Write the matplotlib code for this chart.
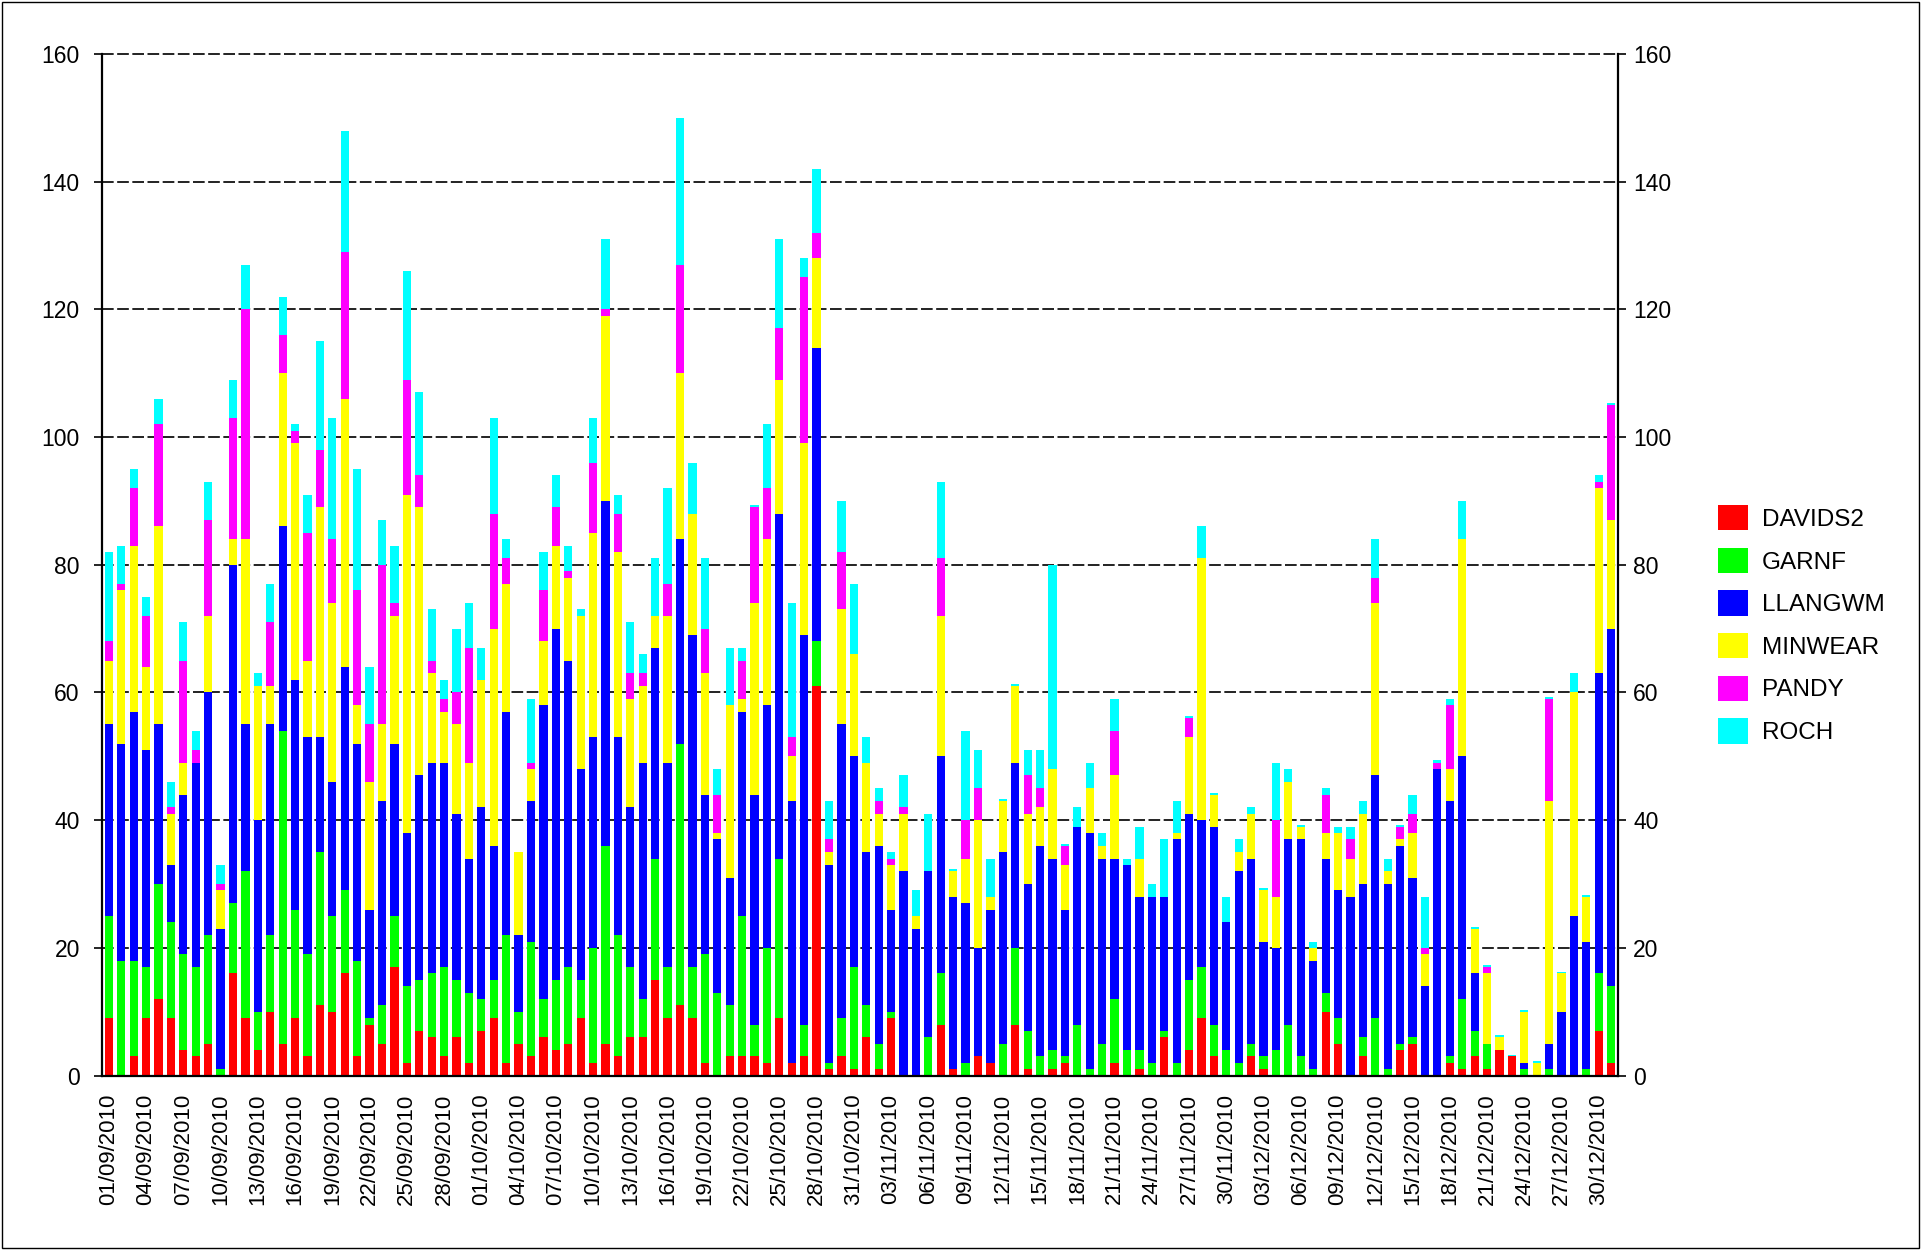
import numpy as np
import pandas as pd
from matplotlib import pyplot as plt
from matplotlib.patches import Patch, Rectangle

plt.rcParams['font.family'] = ['Liberation Sans', 'DejaVu Sans']

# one bar per day, 01/09/2010 - 31/12/2010
days = pd.date_range('2010-09-01', '2010-12-31', freq='D')

names = ['DAVIDS2', 'GARNF', 'LLANGWM', 'MINWEAR', 'PANDY', 'ROCH']
colors = ['#ff0000', '#00ff00', '#0000ff', '#ffff00', '#ff00ff', '#00ffff']

davids2 = [9, 0, 3, 9, 12, 9, 4, 3, 5, 0,
           16, 9, 4, 10, 5, 9, 3, 11, 10, 16,
           3, 8, 5, 17, 2, 7, 6, 3, 6, 2,
           7, 9, 2, 5, 3, 6, 4, 5, 9, 2,
           5, 3, 6, 6, 15, 9, 11, 9, 2, 0,
           3, 3, 3, 2, 9, 2, 3, 61, 1, 3,
           1, 6, 1, 9, 0, 0, 0, 8, 1, 0,
           3, 2, 0, 8, 1, 0, 1, 2, 0, 0,
           0, 2, 0, 1, 0, 6, 0, 4, 9, 3,
           0, 0, 3, 1, 0, 0, 0, 0, 10, 5,
           0, 3, 0, 0, 4, 5, 0, 0, 2, 1,
           3, 1, 4, 3, 0, 0, 0, 0, 0, 0,
           7, 2]
garnf = [16, 18, 15, 8, 18, 15, 15, 14, 17, 1,
         11, 23, 6, 12, 49, 17, 16, 24, 15, 13,
         15, 1, 6, 8, 12, 8, 10, 14, 9, 11,
         5, 6, 20, 5, 18, 6, 11, 12, 6, 18,
         31, 19, 11, 6, 19, 8, 41, 8, 17, 13,
         8, 22, 5, 18, 25, 0, 5, 7, 1, 6,
         16, 5, 4, 1, 0, 0, 6, 8, 0, 2,
         0, 0, 5, 12, 6, 3, 3, 1, 8, 1,
         5, 10, 4, 3, 2, 1, 2, 11, 8, 5,
         4, 2, 2, 2, 4, 8, 3, 1, 3, 4,
         0, 3, 9, 1, 1, 1, 0, 0, 1, 11,
         4, 4, 0, 0, 1, 0, 1, 0, 0, 1,
         9, 12]
llangwm = [30, 34, 39, 34, 25, 9, 25, 32, 38, 22,
           53, 23, 30, 33, 32, 36, 34, 18, 21, 35,
           34, 17, 32, 27, 24, 32, 33, 32, 26, 21,
           30, 21, 35, 12, 22, 46, 55, 48, 33, 33,
           54, 31, 25, 37, 33, 32, 32, 52, 25, 24,
           20, 32, 36, 38, 54, 41, 61, 46, 31, 46,
           33, 24, 31, 16, 32, 23, 26, 34, 27, 25,
           17, 24, 30, 29, 23, 33, 30, 23, 31, 37,
           29, 22, 29, 24, 26, 21, 35, 26, 23, 31,
           20, 30, 29, 18, 16, 29, 34, 17, 21, 20,
           28, 24, 38, 29, 31, 25, 14, 48, 40, 38,
           9, 0, 0, 0, 1, 0, 4, 10, 25, 20,
           47, 56]
minwear = [10, 24, 26, 13, 31, 8, 5, 0, 12, 6,
           4, 29, 21, 6, 24, 37, 12, 36, 28, 42,
           6, 20, 12, 20, 53, 42, 14, 8, 14, 15,
           20, 34, 20, 13, 5, 10, 13, 13, 24, 32,
           29, 29, 17, 12, 5, 23, 26, 19, 19, 1,
           27, 2, 30, 26, 21, 7, 30, 14, 2, 18,
           16, 14, 5, 7, 9, 2, 0, 22, 4, 7,
           20, 2, 8, 12, 11, 6, 14, 7, 0, 7,
           2, 13, 0, 6, 0, 0, 1, 12, 41, 5,
           0, 3, 7, 8, 8, 9, 2, 2, 4, 9,
           6, 11, 27, 2, 1, 7, 5, 0, 5, 34,
           7, 11, 2, 0, 8, 2, 38, 6, 35, 7,
           29, 17]
pandy = [3, 1, 9, 8, 16, 1, 16, 2, 15, 1,
         19, 36, 0, 10, 6, 2, 20, 9, 10, 23,
         18, 9, 25, 2, 18, 5, 2, 2, 5, 18,
         0, 18, 4, 0, 1, 8, 6, 1, 0, 11,
         1, 6, 4, 2, 0, 5, 17, 0, 7, 6,
         0, 6, 15, 8, 8, 3, 26, 4, 2, 9,
         0, 0, 2, 1, 1, 0, 0, 9, 0, 6,
         5, 0, 0, 0, 6, 3, 0, 3, 0, 0,
         0, 7, 0, 0, 0, 0, 0, 3, 0, 0,
         0, 0, 0, 0, 12, 0, 0, 0, 6, 0,
         3, 0, 4, 0, 2, 3, 1, 1, 10, 0,
         0, 1, 0, 0, 0, 0, 16, 0, 0, 0,
         1, 18]
roch = [14, 6, 3, 3, 4, 4, 6, 3, 6, 3,
        6, 7, 2, 6, 6, 1, 6, 17, 19, 19,
        19, 9, 7, 9, 17, 13, 8, 3, 10, 7,
        5, 15, 3, 0, 10, 6, 5, 4, 1, 7,
        11, 3, 8, 3, 9, 15, 23, 8, 11, 4,
        9, 2, 0.3, 10, 14, 21, 3, 10, 6, 8,
        11, 4, 2, 1, 5, 4, 9, 12, 0.3, 14,
        6, 6, 0.3, 0.3, 4, 6, 32, 0.3, 3, 4,
        2, 5, 1, 5, 2, 9, 5, 0.3, 5, 0.3,
        4, 2, 1, 0.4, 9, 2, 0.3, 1, 1, 1,
        2, 2, 6, 2, 0.3, 3, 8, 0.4, 1, 6,
        0.3, 0.3, 0.3, 0.3, 0.3, 0.3, 0.3, 0.3, 3, 0.3,
        1, 0.4]

series = [davids2, garnf, llangwm, minwear, pandy, roch]

fig = plt.figure(figsize=(19.21, 12.5), dpi=100)
ax = fig.add_axes([0.0531, 0.1395, 0.7892, 0.8174])

x = np.arange(len(days))
bottom = np.zeros(len(days))
for name, vals, col in zip(names, series, colors):
    vals = np.array(vals, dtype=float)
    ax.bar(x, vals, width=0.66, bottom=bottom, color=col, label=name,
           linewidth=0, zorder=2)
    bottom += vals

ax.set_xlim(-0.55, len(days) - 0.45)
ax.set_ylim(0, 160)
ax.set_yticks(range(0, 161, 20))
ax.yaxis.grid(True, linestyle=(0, (6, 1.8)), color='#222222', linewidth=1.4)
ax.set_axisbelow(True)
for gl in ax.get_ygridlines():
    gl.set_clip_on(False)

for side in ['left', 'right', 'bottom']:
    ax.spines[side].set_linewidth(1.6)
    ax.spines[side].set_color('black')
ax.spines['top'].set_visible(False)

ax.set_xticks(x[::3])
ax.set_xticklabels([d.strftime('%d/%m/%Y') for d in days[::3]],
                   rotation=90, fontsize=16)
ax.tick_params(axis='x', length=0, pad=13)
ax.tick_params(axis='y', direction='out', length=6, width=1.2,
               labelsize=16.5, pad=10)

# same scale repeated on the right hand side
ax2 = ax.twinx()
ax2.set_ylim(0, 160)
ax2.set_yticks(range(0, 161, 20))
ax2.tick_params(axis='y', direction='out', length=6, width=1.2,
                labelsize=16.5, pad=5)
for sp in ax2.spines.values():
    sp.set_visible(False)

handles = [Patch(facecolor=c, edgecolor='none') for c in colors]
fig.legend(handles, names, loc='upper left',
           bbox_to_anchor=(1718 / 1921, 1 - 505 / 1250),
           frameon=False, fontsize=17.5, borderpad=0, borderaxespad=0,
           handlelength=1.23, handleheight=1.23, labelspacing=0.69,
           handletextpad=0.58)

# thin frame round the whole picture
fig.add_artist(Rectangle((0.001, 0.0015), 0.998, 0.997, transform=fig.transFigure,
                         fill=False, edgecolor='black', linewidth=1))

fig.savefig('out.png', dpi=100, facecolor='white')
